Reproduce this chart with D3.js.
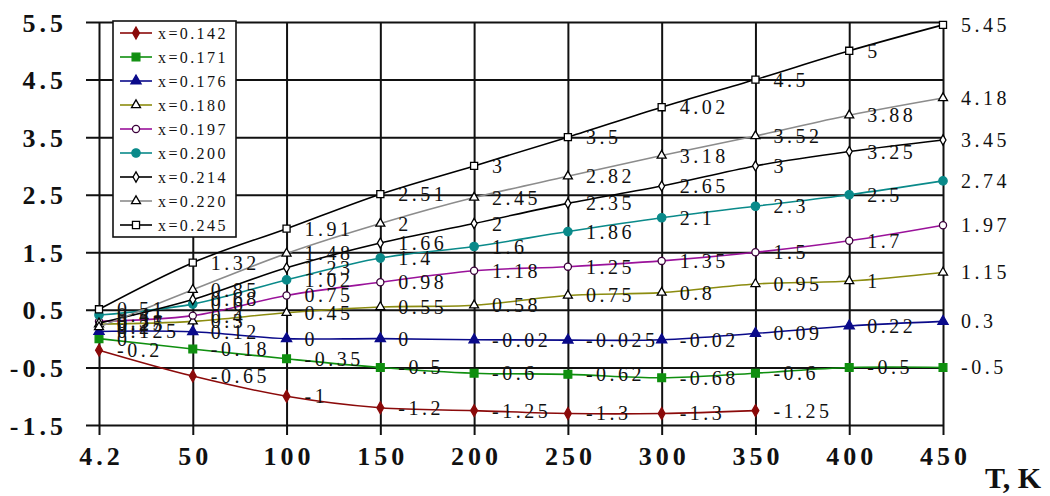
<!DOCTYPE html>
<html>
<head>
<meta charset="utf-8">
<script src="https://cdn.jsdelivr.net/npm/d3@7"></script>
<style>
  body { margin: 0; background: #fff; }
  text { font-family: "Liberation Serif", "DejaVu Serif", serif; }
</style>
</head>
<body>
<svg id="chart" width="1050" height="496"></svg>
<script>
// categories (temperature, K) and tick values
const temps = ["4.2", "50", "100", "150", "200", "250", "300", "350", "400", "450"];
const yTicks = [-1.5, -0.5, 0.5, 1.5, 2.5, 3.5, 4.5, 5.5];

// series names
const names = ["x=0.142", "x=0.171", "x=0.176", "x=0.180", "x=0.197", "x=0.200", "x=0.214", "x=0.220", "x=0.245"];

// series values, one per temperature
const v142 = [-0.2, -0.65, -1, -1.2, -1.25, -1.3, -1.3, -1.25];
const v171 = [0, -0.18, -0.35, -0.5, -0.6, -0.62, -0.68, -0.6, -0.5, -0.5];
const v176 = [0.125, 0.12, 0, 0, -0.02, -0.025, -0.02, 0.09, 0.22, 0.3];
const v180 = [0.25, 0.3, 0.45, 0.55, 0.58, 0.75, 0.8, 0.95, 1, 1.15];
const v197 = [0.3, 0.4, 0.75, 0.98, 1.18, 1.25, 1.35, 1.5, 1.7, 1.97];
const v200 = [0.41, 0.6, 1.02, 1.4, 1.6, 1.86, 2.1, 2.3, 2.5, 2.74];
const v214 = [0.27, 0.68, 1.23, 1.66, 2, 2.35, 2.65, 3, 3.25, 3.45];
const v220 = [0.2, 0.85, 1.48, 2, 2.45, 2.82, 3.18, 3.52, 3.88, 4.18];
const v245 = [0.51, 1.32, 1.91, 2.51, 3, 3.5, 4.02, 4.5, 5, 5.45];

const values = [v142, v171, v176, v180, v197, v200, v214, v220, v245];

// look of each series: line colour, marker shape, marker fill, marker stroke
const styles = [
  { line: "#8b0a0a", sym: d3.symbolDiamond, size: 40, fill: "#8b0a0a", stroke: "#8b0a0a" },
  { line: "#0f8f0f", sym: d3.symbolSquare, size: 60, fill: "#0f8f0f", stroke: "#0f8f0f" },
  { line: "#0a0a8a", sym: d3.symbolTriangle, size: 45, fill: "#0a0a8a", stroke: "#0a0a8a" },
  { line: "#8c8c10", sym: d3.symbolTriangle, size: 35, fill: "#fff", stroke: "#000" },
  { line: "#9a129a", sym: d3.symbolCircle, size: 40, fill: "#fff", stroke: "#3a003a" },
  { line: "#0a8a8a", sym: d3.symbolCircle, size: 55, fill: "#0a8a8a", stroke: "#0a8a8a" },
  { line: "#000", sym: d3.symbolDiamond, size: 30, fill: "#fff", stroke: "#000" },
  { line: "#8c8c8c", sym: d3.symbolTriangle, size: 35, fill: "#fff", stroke: "#000" },
  { line: "#000", sym: d3.symbolSquare, size: 50, fill: "#fff", stroke: "#000" }
];

const svg = d3.select("#chart");
const plotL = 99, plotR = 943, plotT = 22, plotB = 425;

const x = d3.scalePoint().domain(temps).range([plotL, plotR]);
const y = d3.scaleLinear().domain([-1.5, 5.5]).range([plotB, plotT]);

// horizontal grid + left tick labels
const yAxis = svg.append("g")
  .attr("transform", `translate(${plotL - 13},0)`)
  .call(d3.axisLeft(y).tickValues(yTicks).tickSize(-(plotR - plotL + 13)).tickPadding(19)
    .tickFormat(d => String(d)));
yAxis.select(".domain").remove();
yAxis.selectAll("line").attr("stroke", "#111").attr("stroke-width", 2);
yAxis.selectAll("text")
  .attr("font-size", 26).attr("font-weight", "bold").attr("fill", "#111")
  .attr("letter-spacing", 4).attr("dy", "0.35em")
  .style("font-family", "'Liberation Serif', serif");

// vertical grid + bottom tick labels
const xAxis = svg.append("g")
  .attr("transform", `translate(0,${plotB + 10})`)
  .call(d3.axisBottom(x).tickSize(-(plotB + 10 - plotT)).tickPadding(12));
xAxis.select(".domain").remove();
xAxis.selectAll("line").attr("stroke", "#111").attr("stroke-width", 2);
xAxis.selectAll("text")
  .attr("font-size", 26).attr("font-weight", "bold").attr("fill", "#111")
  .attr("letter-spacing", 4).attr("dx", 2)
  .style("font-family", "'Liberation Serif', serif");

svg.append("text")
  .attr("x", 985).attr("y", 488)
  .attr("font-size", 30).attr("font-weight", "bold").attr("fill", "#111")
  .text("T, K");

// series lines
const line = d3.line()
  .x((d, i) => x(temps[i]))
  .y(d => y(d))
  .curve(d3.curveCatmullRom.alpha(0.5));

const series = svg.append("g").selectAll("g")
  .data(values)
  .join("g");

series.append("path")
  .attr("d", d => line(d))
  .attr("fill", "none")
  .attr("stroke", (d, i) => styles[i].line)
  .attr("stroke-width", 1.6);

series.each(function(vals, si) {
  const st = styles[si];
  d3.select(this).selectAll("path.mk")
    .data(vals)
    .join("path")
    .attr("class", "mk")
    .attr("transform", (d, i) => `translate(${x(temps[i])},${y(d)})`)
    .attr("d", d3.symbol().type(st.sym).size(st.size))
    .attr("fill", st.fill)
    .attr("stroke", st.stroke)
    .attr("stroke-width", 1.3);
});

// data labels
const labels = svg.append("g");
values.forEach(vals => {
  labels.selectAll(null)
    .data(vals)
    .join("text")
    .attr("x", (d, i) => x(temps[i]) + 18)
    .attr("y", d => y(d) + 7)
    .attr("font-size", 20)
    .attr("letter-spacing", 3.5)
    .attr("fill", "#111")
    .text(d => String(d));
});

// legend
const lg = svg.append("g").attr("transform", "translate(113,21)");
lg.append("rect")
  .attr("width", 123).attr("height", 216)
  .attr("fill", "#fff").attr("stroke", "#111").attr("stroke-width", 1.6);

const rows = lg.selectAll("g.row")
  .data(names)
  .join("g")
  .attr("class", "row")
  .attr("transform", (d, i) => `translate(0,${12 + i * 24})`);

rows.append("line")
  .attr("x1", 7).attr("x2", 39)
  .attr("stroke", (d, i) => styles[i].line)
  .attr("stroke-width", 1.6);

rows.append("path")
  .attr("transform", "translate(23,0)")
  .attr("d", (d, i) => d3.symbol().type(styles[i].sym).size(styles[i].size)())
  .attr("fill", (d, i) => styles[i].fill)
  .attr("stroke", (d, i) => styles[i].stroke)
  .attr("stroke-width", 1.3);

rows.append("text")
  .attr("x", 45).attr("y", 5.5)
  .attr("font-size", 16)
  .attr("letter-spacing", 2.4)
  .attr("fill", "#111")
  .text(d => d);
</script>
</body>
</html>
